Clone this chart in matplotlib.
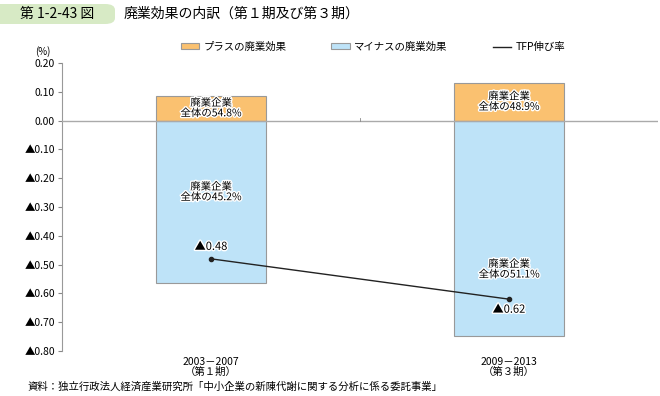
import matplotlib.pyplot as plt
import matplotlib.patheffects as pe
from matplotlib.patches import FancyBboxPatch
from matplotlib.lines import Line2D

plt.rcParams['font.family'] = ['Noto Sans CJK JP', 'DejaVu Sans']

# データ
periods = ['2003－2007\n（第１期）', '2009－2013\n（第３期）']
plus_effect = [0.087, 0.132]
minus_effect = [-0.563, -0.748]
tfp = [-0.48, -0.62]
plus_labels = ['廃業企業\n全体の54.8%', '廃業企業\n全体の48.9%']
minus_labels = ['廃業企業\n全体の45.2%', '廃業企業\n全体の51.1%']
tfp_labels = ['▲0.48', '▲0.62']
yticks = [0.2, 0.1, 0.0, -0.1, -0.2, -0.3, -0.4, -0.5, -0.6, -0.7, -0.8]

orange = '#fac170'
blue = '#bee3f8'
edge = '#999999'

fig = plt.figure(figsize=(6.6, 3.96), dpi=100)
ax = fig.add_axes([62/660, 45/396, 596/660, 288/396])

x = list(range(len(periods)))
b1 = ax.bar(x, plus_effect, width=0.37, color=orange, edgecolor=edge, linewidth=0.8, zorder=2)
b2 = ax.bar(x, minus_effect, width=0.37, color=blue, edgecolor=edge, linewidth=0.8, zorder=2)
ax.plot(x, tfp, color='#222222', linewidth=1, marker='o', markersize=3, zorder=4)
ax.axhline(0, color='#aaaaaa', linewidth=1, zorder=3)
ax.plot([0.5, 0.5], [0, 0.008], color='#888888', linewidth=0.6, zorder=3)

stroke = [pe.withStroke(linewidth=2, foreground='white')]
minus_pos = [0.44, 0.69]
for i in x:
    ax.text(i, plus_effect[i] / 2, plus_labels[i], ha='center', va='center', fontsize=7.5,
            linespacing=1.05, path_effects=stroke, zorder=5)
    ax.text(i, minus_effect[i] * minus_pos[i], minus_labels[i],
            ha='center', va='center', fontsize=7.5, linespacing=1.05, path_effects=stroke, zorder=5)
ax.annotate(tfp_labels[0], (0, tfp[0]), xytext=(0, 5), textcoords='offset points',
            ha='center', va='bottom', fontsize=8, path_effects=stroke, zorder=5)
ax.annotate(tfp_labels[1], (1, tfp[1]), xytext=(0, -4), textcoords='offset points',
            ha='center', va='top', fontsize=8, path_effects=stroke, zorder=5)

ax.set_xlim(-0.5, 1.5)
ax.set_ylim(-0.8, 0.2)
ax.set_yticks(yticks)
ax.set_yticklabels([f'{v:.2f}' if v >= 0 else f'▲{-v:.2f}' for v in yticks], fontsize=7.5)
ax.set_xticks(x)
ax.set_xticklabels(periods, fontsize=7.5, linespacing=1.05)
ax.tick_params(axis='x', length=0, pad=4)
ax.tick_params(axis='y', length=3, color='#888888', pad=2)
for s in ['top', 'right', 'bottom']:
    ax.spines[s].set_visible(False)
ax.spines['left'].set_color('#999999')
ax.spines['left'].set_linewidth(0.8)
ax.text(-0.02, 1.02, '(%)', transform=ax.transAxes, ha='right', va='bottom', fontsize=7)

handles = [b1, b2, Line2D([], [], color='#222222', linewidth=1)]
names = ['プラスの廃業効果', 'マイナスの廃業効果', 'TFP伸び率']
fig.legend(handles, names, loc='center', bbox_to_anchor=(0.565, 1 - 47/396), ncol=3, frameon=False,
           fontsize=7.5, handlelength=1.8, handleheight=0.5, columnspacing=4.3, handletextpad=0.4)

# タイトル
badge = FancyBboxPatch((-10/660, 1 - 24/396), 125/660, 20/396, transform=fig.transFigure,
                       boxstyle='round,pad=0,rounding_size=0.015', facecolor='#d7eac5',
                       edgecolor='none', figure=fig)
fig.patches.append(badge)
fig.text(57/660, 1 - 14/396, '第 1-2-43 図', ha='center', va='center', fontsize=10)
fig.text(124/660, 1 - 14/396, '廃業効果の内訳（第１期及び第３期）', ha='left', va='center', fontsize=10)
fig.text(28/660, 1 - 387/396, '資料：独立行政法人経済産業研究所「中小企業の新陳代謝に関する分析に係る委託事業」',
         ha='left', va='center', fontsize=7.5)

fig.savefig('out.png', dpi=100)
